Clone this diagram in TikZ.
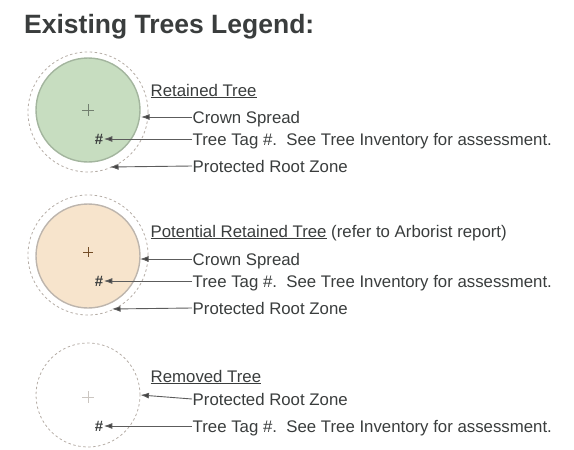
\documentclass[tikz,border=0pt]{standalone}
\usepackage{fontspec}
\setmainfont{Liberation Sans}
\usetikzlibrary{positioning,arrows.meta}
\definecolor{lgtext}{HTML}{3A3D3D}
\definecolor{lgline}{HTML}{5C5C5C}
\definecolor{lghead}{HTML}{404040}
\definecolor{lggreen}{HTML}{C7DDC0}
\definecolor{lggreenrim}{HTML}{A3B59E}
\definecolor{lgpeach}{HTML}{F7E4CC}
\definecolor{lgpeachrim}{HTML}{BDB5AD}
\definecolor{lgzone}{HTML}{B5ADA6}

\begin{document}
\begin{tikzpicture}[x=1pt, y=-1pt,
  crown/.style={circle, minimum size=104pt, inner sep=0pt, line width=1.4pt},
  zone/.style={circle, draw=lgzone, dash pattern=on 2.5pt off 2.5pt, minimum size=120pt, inner sep=0pt, line width=0.8pt},
  lbl/.style={anchor=west, font=\fontsize{16.8}{18}\selectfont\color{lgtext}, inner sep=0.5pt, text height=12pt, text depth=0pt},
  tag/.style={font=\fontsize{15}{16}\selectfont\bfseries\color{lgtext}, inner sep=0.5pt},
  larrow/.style={-{Latex[length=8.5pt, width=6pt, fill=lghead]}, lgline, line width=0.9pt},
  cross/.style={line width=0.6pt},
]
\useasboundingbox (0,0) rectangle (574,450);

\node[anchor=base west, font=\fontsize{26.5}{28}\selectfont\bfseries\color{lgtext}, inner sep=0pt] (title) at (24,33) {Existing Trees Legend:};

% retained tree
\node[zone] (zone1) at (88,112) {};
\node[crown, fill=lggreen, draw=lggreenrim] (crown1) at (88,110) {};
\draw[cross, lggreenrim!70!black] (82,110) -- (94,110) (88,104) -- (88,116);
\node[tag] (hash1) at (99,139) {\#};
\node[lbl] (head1) at (150,90) {\underline{Retained Tree}};
\node[lbl] (spread1) at (192,117) {Crown Spread};
\node[lbl] (tagtxt1) at (192,139) {Tree Tag \#.\ \ See Tree Inventory for assessment.};
\node[lbl] (root1) at (192,166) {Protected Root Zone};
\coordinate (spreadtip1) at (141,117);
\coordinate (roottip1) at (110,167);
\draw[larrow] (spread1.west) -- (spreadtip1);
\draw[larrow] (tagtxt1.west) -- (hash1.east);
\draw[larrow] (root1.west) -- (roottip1);

% potential retained tree
\node[zone] (zone2) at (88,255) {};
\node[crown, fill=lgpeach, draw=lgpeachrim] (crown2) at (88,256) {};
\draw[cross, brown!60!black] (83,252) -- (93,252) (88,247) -- (88,257);
\node[tag] (hash2) at (99,281) {\#};
\node[lbl] (head2) at (150,231) {\underline{Potential Retained Tree} (refer to Arborist report)};
\node[lbl] (spread2) at (192,259) {Crown Spread};
\node[lbl] (tagtxt2) at (192,281) {Tree Tag \#.\ \ See Tree Inventory for assessment.};
\node[lbl] (root2) at (192,308) {Protected Root Zone};
\coordinate (spreadtip2) at (140,259);
\coordinate (roottip2) at (112,309);
\draw[larrow] (spread2.west) -- (spreadtip2);
\draw[larrow] (tagtxt2.west) -- (hash2.east);
\draw[larrow] (root2.west) -- (roottip2);

% removed tree
\node[zone, minimum size=104pt] (zone3) at (88,395) {};
\draw[cross, lgzone!70] (82,397) -- (94,397) (88,391) -- (88,403);
\node[tag] (hash3) at (99,426) {\#};
\node[lbl] (head3) at (150,376) {\underline{Removed Tree}};
\node[lbl] (root3) at (192,399) {Protected Root Zone};
\node[lbl] (tagtxt3) at (192,426) {Tree Tag \#.\ \ See Tree Inventory for assessment.};
\draw[larrow] (root3.west) -- (zone3.east);
\draw[larrow] (tagtxt3.west) -- (hash3.east);
\end{tikzpicture}
\end{document}
